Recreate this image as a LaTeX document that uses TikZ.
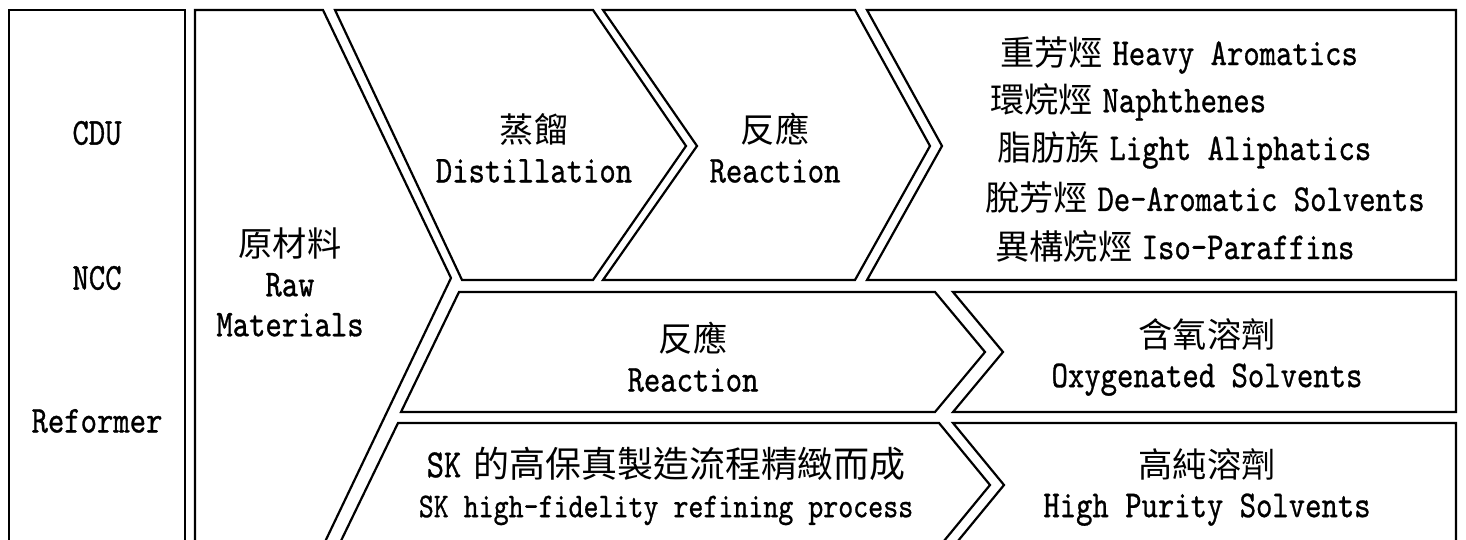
\documentclass[tikz,border=0pt]{standalone}
\usepackage{fontspec}
\setmainfont[FakeStretch=0.82,FakeBold=0.8]{lmmono10-regular.otf}
\newfontfamily\cjk[Scale=0.9]{Noto Sans CJK TC}
\begin{document}
\begin{tikzpicture}[x=0.5pt,y=-0.5pt]
  \tikzstyle{panel}=[draw,line width=1.1pt,line join=miter]
  \tikzstyle{tag}=[align=center,inner sep=0pt,font=\fontsize{19}{20}\selectfont]
  \tikzstyle{item}=[tag,anchor=west]
  \useasboundingbox (0,0) rectangle (1466,540);
  \clip (0,0) rectangle (1466,540);
  % sources
  \draw [panel] (9,10) rectangle (185,560);
  \node [tag] (cdu) at (97,133) {CDU};
  \node [tag] (ncc) at (97,278) {NCC};
  \node [tag] (reformer) at (97,421) {Reformer};
  % raw materials chevron
  \draw [panel] (195,10) -- (323,10) -- (451,278) -- (323,546) -- (195,546) -- cycle;
  \node [tag] (raw) at (290,282) {{\cjk 原材料}\\Raw\\Materials};
  % top row
  \draw [panel] (335,10) -- (593,10) -- (686,146) -- (593,280) -- (462,280) -- cycle;
  \node [tag] (distil) at (534,148) {{\cjk 蒸餾}\\Distillation};
  \draw [panel] (603,10) -- (855,10) -- (930,146) -- (855,280) -- (603,280) -- (697,146) -- cycle;
  \node [tag] (react1) at (775,148) {{\cjk 反應}\\Reaction};
  \draw [panel] (867,10) -- (1456,10) -- (1456,280) -- (867,280) -- (942,146) -- cycle;
  \node [item] (heavy) at (1000,55) {{\cjk 重芳烴}\hspace{0.25em}Heavy Aromatics};
  \node [item] (naph) at (990,102) {{\cjk 環烷烴}\hspace{0.25em}Naphthenes};
  \node [item] (light) at (997,150) {{\cjk 脂肪族}\hspace{0.25em}Light Aliphatics};
  \node [item] (dearom) at (985,198) {{\cjk 脫芳烴}\hspace{0.25em}De-Aromatic Solvents};
  \node [item] (iso) at (995,246) {{\cjk 異構烷烴}\hspace{0.25em}Iso-Paraffins};
  % middle row
  \draw [panel] (459,292) -- (935,292) -- (985,352) -- (935,412) -- (401,412) -- cycle;
  \node [tag] (react2) at (693,357) {{\cjk 反應}\\Reaction};
  \draw [panel] (953,292) -- (1456,292) -- (1456,412) -- (953,412) -- (1003,352) -- cycle;
  \node [tag] (oxy) at (1207,357) {{\cjk 含氧溶劑}\\Oxygenated Solvents};
  % bottom row
  \draw [panel] (398,423) -- (939,423) -- (990,485) -- (939,547) -- (338,547) -- cycle;
  \node [tag] (sk) at (666,486) {{\fontsize{20}{21}\selectfont SK\hspace{0.3em}{\cjk 的高保真製造流程精緻而成}}\\
    {\fontsize{17.4}{20}\selectfont SK high-fidelity refining process}};
  \draw [panel] (953,423) -- (1456,423) -- (1456,547) -- (953,547) -- (1004,485) -- cycle;
  \node [tag] (pure) at (1207,487) {{\cjk 高純溶劑}\\High Purity Solvents};
\end{tikzpicture}
\end{document}
